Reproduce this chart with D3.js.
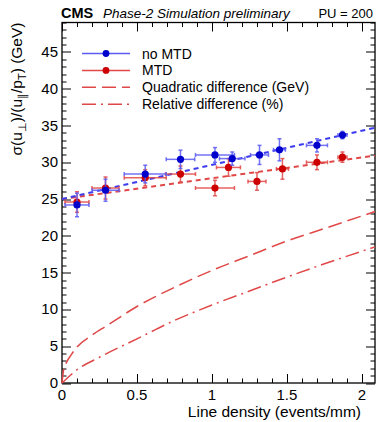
<!DOCTYPE html>
<html>
<head>
<meta charset="utf-8">
<script src="https://cdn.jsdelivr.net/npm/d3@7"></script>
<style>
    body { margin: 0; background: #fff; }
    svg { font-family: "Liberation Sans", Arial, sans-serif; }
</style>
</head>
<body>
<div id="chart"></div>
<script>
// no MTD points
const noMtdX = [0.10, 0.29, 0.555, 0.79, 1.02, 1.135, 1.317, 1.45, 1.70, 1.87];
const noMtdY = [24.2, 26.2, 28.4, 30.4, 31.0, 30.5, 31.0, 31.7, 32.3, 33.7];
const noMtdXErr = [0.08, 0.09, 0.14, 0.095, 0.13, 0.085, 0.06, 0.04, 0.07, 0.03];
const noMtdYErr = [1.6, 1.5, 1.2, 1.25, 1.0, 0.9, 1.3, 1.5, 0.9, 0.5];

// MTD points
const mtdX = [0.10, 0.29, 0.555, 0.79, 1.02, 1.11, 1.30, 1.47, 1.70, 1.87];
const mtdY = [24.6, 26.5, 27.9, 28.4, 26.5, 29.3, 27.4, 29.1, 30.0, 30.7];
const mtdXErr = [0.08, 0.09, 0.14, 0.10, 0.13, 0.08, 0.06, 0.04, 0.07, 0.03];
const mtdYErr = [1.4, 1.5, 1.1, 1.1, 1.05, 1.2, 1.2, 1.4, 1.0, 0.7];

// fitted lines (end points)
const fitX = [0, 2.087];
const noMtdFit = [25.0, 34.7];
const mtdFit = [25.0, 30.9];

// difference curves
const quadX = [0, 0.01, 0.03, 0.06, 0.1, 0.2, 0.3, 0.5, 0.75, 1, 1.25, 1.5, 1.75, 2.087];
const quadY = [0, 1.7, 2.8, 3.8, 4.9, 6.5, 7.8, 10.4, 13.0, 15.3, 17.3, 19.3, 21.0, 23.3];
const relX = [0, 0.1, 0.25, 0.5, 0.75, 1, 1.25, 1.5, 1.75, 2.087];
const relY = [0, 1.8, 3.5, 6.0, 8.5, 10.6, 12.5, 14.4, 16.2, 18.5];

const xTicks = [0, 0.5, 1, 1.5, 2];
const xTickLabels = ["0", "0.5", "1", "1.5", "2"];
const yTicks = [0, 5, 10, 15, 20, 25, 30, 35, 40, 45];

const W = 376, H = 422;
const margin = { top: 22.5, right: 1, bottom: 39, left: 62 };
const width = W - margin.left - margin.right;
const height = H - margin.top - margin.bottom;

const blue = "#0000cc", blueLight = "#5b5bf5";
const red = "#cc0000", redLight = "#e04848";

const svg = d3.select("#chart")
    .append("svg")
    .attr("width", W)
    .attr("height", H)
    .append("g")
    .attr("transform", `translate(${margin.left}, ${margin.top})`);

const x = d3.scaleLinear().domain([0, 2.087]).range([0, width]);
const y = d3.scaleLinear().domain([0, 49.0]).range([height, 0]);

// ticks, ROOT style (inside, on all four sides)
const xMinor = d3.range(0, 2.087, 0.1);
const yMinor = d3.range(0, 49.01, 1);

function drawTicks() {
    let g = svg.append("g").attr("stroke", "#000").attr("stroke-width", 1);
    xMinor.forEach(function(v) {
        let major = xTicks.some(t => Math.abs(t - v) < 1e-6);
        let len = major ? 9 : 4.5;
        let px = Math.round(x(v)) + 0.5;
        g.append("line").attr("x1", px).attr("x2", px).attr("y1", height).attr("y2", height - len);
        g.append("line").attr("x1", px).attr("x2", px).attr("y1", 0).attr("y2", len);
    });
    yMinor.forEach(function(v) {
        let major = yTicks.indexOf(Math.round(v)) >= 0 && Math.abs(v % 5) < 1e-6;
        let len = major ? 9 : 4.5;
        let py = Math.round(y(v)) + 0.5;
        g.append("line").attr("x1", 0).attr("x2", len).attr("y1", py).attr("y2", py);
        g.append("line").attr("x1", width).attr("x2", width - len).attr("y1", py).attr("y2", py);
    });
}
drawTicks();

svg.append("rect")
    .attr("x", 0).attr("y", 0)
    .attr("width", width).attr("height", height)
    .attr("fill", "none")
    .attr("stroke", "#000")
    .attr("stroke-width", 1.3);

// tick labels
svg.selectAll(".xlab")
    .data(xTicks)
    .enter().append("text")
    .attr("x", d => x(d))
    .attr("y", height + 17)
    .attr("text-anchor", "middle")
    .style("font-size", "15px")
    .text((d, i) => xTickLabels[i]);

svg.selectAll(".ylab")
    .data(yTicks)
    .enter().append("text")
    .attr("x", -4)
    .attr("y", d => y(d) + 5)
    .attr("text-anchor", "end")
    .style("font-size", "15px")
    .text(d => d);

// axis titles
svg.append("text")
    .attr("x", width - 14)
    .attr("y", height + 34)
    .attr("text-anchor", "end")
    .style("font-size", "15.5px")
    .text("Line density (events/mm)");

let yt = svg.append("text")
    .attr("transform", `translate(-40, 0) rotate(-90)`)
    .attr("text-anchor", "end")
    .style("font-size", "15.5px");
yt.append("tspan").text("σ(u");
yt.append("tspan").attr("dy", 4).style("font-size", "11px").text("⊥");
yt.append("tspan").attr("dy", -4).text(")/(u");
yt.append("tspan").attr("dy", 4).style("font-size", "11px").text("∥");
yt.append("tspan").attr("dy", -4).text("/p");
yt.append("tspan").attr("dy", 4).style("font-size", "11px").text("T");
yt.append("tspan").attr("dy", -4).text(") (GeV)");

// header
svg.append("text")
    .attr("x", -1).attr("y", -5)
    .style("font-size", "14.5px").style("font-weight", "bold")
    .text("CMS");
svg.append("text")
    .attr("x", 41).attr("y", -5)
    .style("font-size", "13.5px").style("font-style", "italic")
    .text("Phase-2 Simulation preliminary");
svg.append("text")
    .attr("x", width - 2).attr("y", -5)
    .attr("text-anchor", "end")
    .style("font-size", "13px")
    .text("PU = 200");

// curves
let line = d3.line().x(d => x(d[0])).y(d => y(d[1]));
let smooth = d3.line().x(d => x(d[0])).y(d => y(d[1])).curve(d3.curveMonotoneX);

svg.append("path")
    .attr("d", smooth(quadX.map((v, i) => [v, quadY[i]])))
    .attr("fill", "none").attr("stroke", redLight).attr("stroke-width", 1.5)
    .attr("stroke-dasharray", "14,6");
svg.append("path")
    .attr("d", smooth(relX.map((v, i) => [v, relY[i]])))
    .attr("fill", "none").attr("stroke", redLight).attr("stroke-width", 1.5)
    .attr("stroke-dasharray", "14,5,2,5");

svg.append("path")
    .attr("d", line(fitX.map((v, i) => [v, mtdFit[i]])))
    .attr("fill", "none").attr("stroke", redLight).attr("stroke-width", 2)
    .attr("stroke-dasharray", "5,4");
svg.append("path")
    .attr("d", line(fitX.map((v, i) => [v, noMtdFit[i]])))
    .attr("fill", "none").attr("stroke", "#3c3cee").attr("stroke-width", 2)
    .attr("stroke-dasharray", "5,4");

// points with error bars
function addPoints(xs, ys, xe, ye, col, light) {
    let g = svg.append("g");
    xs.forEach(function(xv, i) {
        let px = x(xv), py = y(ys[i]);
        let x0 = x(xv - xe[i]), x1 = x(xv + xe[i]);
        let y0 = y(ys[i] - ye[i]), y1 = y(ys[i] + ye[i]);
        let add = (a, b, c, d) => g.append("line").attr("x1", a).attr("y1", b).attr("x2", c).attr("y2", d)
            .attr("stroke", light).attr("stroke-width", 1.5).attr("stroke-opacity", 0.85);
        add(x0, py, x1, py);
        add(px, y0, px, y1);
        add(x0, py - 2, x0, py + 2);
        add(x1, py - 2, x1, py + 2);
        add(px - 2, y0, px + 2, y0);
        add(px - 2, y1, px + 2, y1);
        g.append("circle").attr("cx", px).attr("cy", py).attr("r", 3.6).attr("fill", col);
    });
}
addPoints(mtdX, mtdY, mtdXErr, mtdYErr, red, redLight);
addPoints(noMtdX, noMtdY, noMtdXErr, noMtdYErr, blue, blueLight);

// legend
const legendItems = [
    { label: "no MTD", color: blueLight, marker: blue, dash: null },
    { label: "MTD", color: redLight, marker: red, dash: null },
    { label: "Quadratic difference (GeV)", color: redLight, marker: null, dash: "14,6" },
    { label: "Relative difference (%)", color: redLight, marker: null, dash: "14,5,2,5" }
];
let leg = svg.selectAll(".leg")
    .data(legendItems)
    .enter().append("g")
    .attr("transform", (d, i) => `translate(0, ${31 + i * 16.9})`);
leg.append("line")
    .attr("x1", 20).attr("x2", 68)
    .attr("stroke", d => d.color)
    .attr("stroke-width", 1.5)
    .attr("stroke-dasharray", d => d.dash);
leg.filter(d => d.marker)
    .append("circle").attr("cx", 44).attr("r", 3.4).attr("fill", d => d.marker);
leg.append("text")
    .attr("x", 80).attr("y", 5)
    .style("font-size", "14px")
    .text(d => d.label);
</script>
</body>
</html>
